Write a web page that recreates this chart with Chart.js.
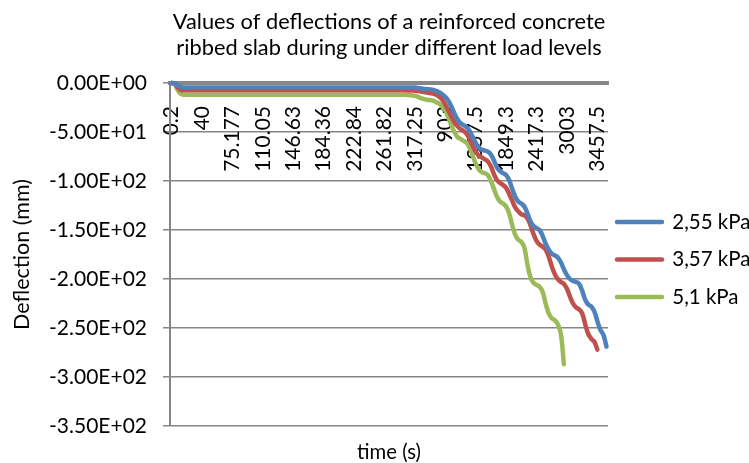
<!DOCTYPE html>
<html><head><meta charset="utf-8">
<script src="https://cdn.jsdelivr.net/npm/chart.js@4"></script>
<style>html,body{margin:0;padding:0;background:#fff}#wrap{width:749px;height:463px}</style>
</head><body><div id="wrap"><canvas id="c" width="749" height="463"></canvas></div>
<script>
// tick labels shown on the time axis (one every 10 samples)
const timeTickLabels = ['0.2','40','75.177','110.05','146.63','184.36','222.84','261.82','317.25','903','1357.5','1849.3','2417.3','3003','3457.5'];
const labelEvery = 10;
const seriesNames = ['2,55 kPa','3,57 kPa','5,1 kPa'];
const yTickValues = [0,-50,-100,-150,-200,-250,-300,-350];

const defl255 = [
0,-0.5,-2.5,-4,-4.5,-4.5,-4.5,-4.5,-4.5,-4.5,
-4.5,-4.5,-4.5,-4.5,-4.5,-4.5,-4.5,-4.5,-4.5,-4.5,
-4.5,-4.5,-4.5,-4.5,-4.5,-4.5,-4.5,-4.5,-4.5,-4.5,
-4.5,-4.5,-4.5,-4.5,-4.5,-4.5,-4.5,-4.5,-4.5,-4.5,
-4.5,-4.5,-4.5,-4.5,-4.5,-4.5,-4.5,-4.5,-4.5,-4.5,
-4.5,-4.5,-4.5,-4.5,-4.5,-4.5,-4.5,-4.5,-4.5,-4.5,
-4.5,-4.5,-4.5,-4.5,-4.5,-4.5,-4.5,-4.5,-4.5,-4.5,
-4.5,-4.5,-4.5,-4.5,-4.5,-4.5,-4.5,-4.5,-4.6,-4.6,
-4.7,-5,-5.5,-6,-6.3,-6.6,-7,-8,-9.5,-11.5,
-14,-18,-24,-31,-37,-41,-43,-45,-49,-55,
-61,-66,-68,-69,-70,-73,-79,-86,-90,-92,
-94,-99,-108,-116,-121,-123,-126,-133,-141,-146,
-148,-150,-156,-164,-170,-174,-176,-178,-183,-190,
-196,-200,-202,-203,-205,-212,-221,-226,-228,-233,
-243,-252,-257,-269
];
const defl357 = [
0,-0.6,-4.5,-7,-7.5,-7.5,-7.5,-7.5,-7.5,-7.5,
-7.5,-7.5,-7.5,-7.5,-7.5,-7.5,-7.5,-7.5,-7.5,-7.5,
-7.5,-7.5,-7.5,-7.5,-7.5,-7.5,-7.5,-7.5,-7.5,-7.5,
-7.5,-7.5,-7.5,-7.5,-7.5,-7.5,-7.5,-7.5,-7.5,-7.5,
-7.5,-7.5,-7.5,-7.5,-7.5,-7.5,-7.5,-7.5,-7.5,-7.5,
-7.5,-7.5,-7.5,-7.5,-7.5,-7.5,-7.5,-7.5,-7.5,-7.5,
-7.5,-7.5,-7.5,-7.5,-7.5,-7.5,-7.5,-7.5,-7.5,-7.5,
-7.5,-7.5,-7.5,-7.5,-7.5,-7.5,-7.5,-7.5,-7.6,-7.7,
-7.8,-8.1,-8.6,-9.2,-9.7,-10.2,-10.8,-12,-14,-17,
-22,-28,-34,-40,-44,-47,-49,-52,-57,-64,
-70,-74,-76,-78,-80,-85,-93,-99,-102,-104,
-107,-113,-120,-127,-131,-134,-135,-138,-145,-154,
-161,-165,-167,-170,-177,-187,-195,-200,-203,-205,
-210,-218,-225,-229,-231,-235,-246,-256,-261,-264,
-272,null,null,null
];
const defl51 = [
0,-1,-7,-11,-12,-12,-12,-12,-12,-12,
-12,-12,-12,-12,-12,-12,-12,-12,-12,-12,
-12,-12,-12,-12,-12,-12,-12,-12,-12,-12,
-12,-12,-12,-12,-12,-12,-12,-12,-12,-12,
-12,-12,-12,-12,-12,-12,-12,-12,-12,-12,
-12,-12,-12,-12,-12,-12,-12,-12,-12,-12,
-12,-12,-12,-12,-12,-12,-12,-12,-12,-12,
-12,-12,-12,-12,-12,-12,-12,-12,-12.3,-12.6,
-13,-14,-15.5,-16.5,-17,-17.5,-18,-19.5,-21,-24,
-28,-35,-43,-50,-55,-57,-59,-61,-66,-74,
-82,-88,-91,-92,-94,-100,-108,-116,-121,-123,
-126,-133,-145,-155,-160,-162,-168,-185,-198,-204,
-206,-208,-213,-225,-235,-240,-242,-246,-256,-287,
null,null,null,null,null,null,null,null,null,null,
null,null,null,null
];

const categories = defl255.map((_, i) => (i % labelEvery === 0 && timeTickLabels[i / labelEvery] !== undefined) ? timeTickLabels[i / labelEvery] : '');

function fmtE(v) {
  if (v === 0) return '0.00E+00';
  const sign = v < 0 ? '-' : '';
  const a = Math.abs(v);
  const e = Math.floor(Math.log10(a));
  const m = a / Math.pow(10, e);
  return sign + m.toFixed(2) + 'E' + (e < 0 ? '-' : '+') + String(Math.abs(e)).padStart(2, '0');
}

Chart.defaults.font.family = 'Lato';
Chart.defaults.color = '#000';
const gray = '#868686';
const colors = ['#4F81BD', '#C0504D', '#9BBB59'];
const seriesData = [defl255, defl357, defl51];

new Chart(document.getElementById('c'), {
  type: 'line',
  data: {
    labels: categories,
    datasets: seriesData.map((d, i) => ({
      label: seriesNames[i], data: d,
      borderColor: colors[i], backgroundColor: colors[i],
      borderWidth: 4.5, pointRadius: 0, pointHoverRadius: 0,
      tension: 0.4, borderCapStyle: 'round', borderJoinStyle: 'round',
      clip: false, spanGaps: false
    }))
  },
  options: {
    responsive: false, animation: false,
    layout: { padding: 0 },
    plugins: {
      title: {
        display: true, fullSize: false,
        text: ['Values of deflections of a reinforced concrete', 'ribbed slab during under different load levels'],
        font: { size: 21.8, weight: 'normal', lineHeight: '26px' },
        padding: { top: 9, bottom: 22 }, color: '#000'
      },
      legend: {
        position: 'right', fullSize: false, maxWidth: 141,
        title: { display: true, text: '', font: { size: 10, lineHeight: '18px' }, padding: 0 },
        labels: {
          usePointStyle: true, pointStyle: 'line', pointStyleWidth: 45,
          padding: 9, color: '#000',
          font: { size: 20.5, lineHeight: '28.5px' },
          generateLabels: (chart) => Chart.defaults.plugins.legend.labels.generateLabels(chart)
            .map(l => Object.assign({}, l, { text: [l.text], pointStyle: 'line', lineCap: 'round' }))
        }
      },
      tooltip: { enabled: false }
    },
    scales: {
      x: {
        type: 'category', position: { y: 0 }, offset: true,
        grid: { display: false },
        border: { display: true, color: gray, width: 4 },
        ticks: { autoSkip: false, minRotation: 90, maxRotation: 90, padding: 15, font: { size: 21 }, color: '#000' }
      },
      xTitle: {
        type: 'category', position: 'bottom', display: true,
        grid: { display: false }, border: { display: false }, ticks: { display: false },
        title: { display: true, text: 'time (s)', font: { size: 20.3, lineHeight: '22px' }, padding: { top: 7, bottom: 0 }, color: '#000' }
      },
      y: {
        type: 'linear', position: 'left', min: -350, max: 0,
        afterBuildTicks: (s) => { s.ticks = yTickValues.map(v => ({ value: v })); },
        afterFit: (s) => { s.width = 170; },
        grid: { color: gray, lineWidth: 1.5, tickLength: 7, drawTicks: true, tickColor: gray },
        border: { display: true, color: gray, width: 2 },
        ticks: { padding: 16, font: { size: 21 }, color: '#000', callback: (v) => fmtE(v) },
        title: { display: true, text: 'Deflection (mm)', font: { size: 21.5 }, padding: { top: 9, bottom: 0 }, color: '#000' }
      }
    }
  }
});
</script></body></html>
